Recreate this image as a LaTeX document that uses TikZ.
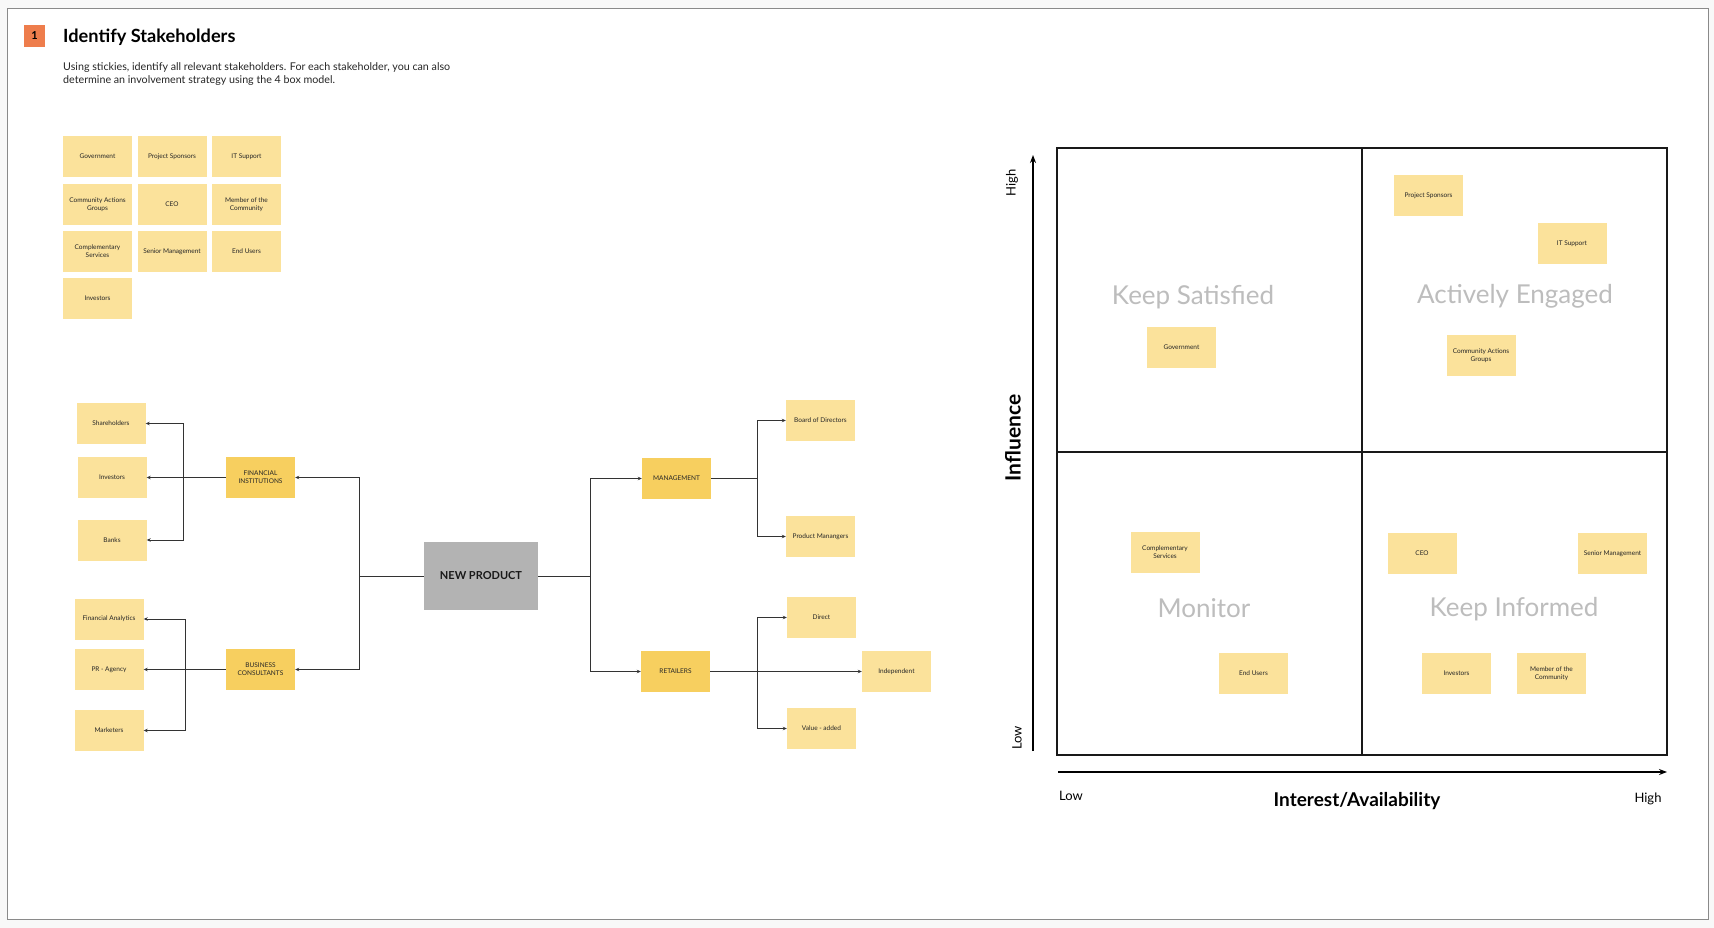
\documentclass[tikz,border=0pt]{standalone}
\usepackage{fontspec}
\setmainfont{Lato}
\usetikzlibrary{arrows.meta}
\definecolor{pagebg}{HTML}{F8F8F8}
\definecolor{framegray}{HTML}{8A8A8A}
\definecolor{stickyY}{HTML}{FBE29B}
\definecolor{catY}{HTML}{F7CF5F}
\definecolor{npgray}{HTML}{B3B3B3}
\definecolor{badge}{HTML}{EE7D4C}
\definecolor{linec}{HTML}{333333}
\definecolor{quadgray}{HTML}{BDBDBD}
\tikzset{
  sticky/.style={rectangle, fill=stickyY, minimum width=69pt, minimum height=41pt, inner sep=1pt,
    align=center, text=black!85, font=\fontsize{6.5}{8}\selectfont},
  catbox/.style={sticky, fill=catY},
  npbox/.style={rectangle, fill=npgray, minimum width=114pt, minimum height=68pt, inner sep=0pt,
    text=black!90, font=\bfseries\fontsize{11}{13}\selectfont},
  conn/.style={draw=linec, line width=1pt},
  arr/.style={conn, -{Stealth[length=4pt,width=3.5pt]}},
  axisarr/.style={draw=black, line width=1.4pt, -{Stealth[length=8pt,width=6pt]}},
  quadlbl/.style={text=quadgray, font=\fontsize{26}{29}\selectfont},
  axlbl/.style={text=black, font=\fontsize{13}{15}\selectfont},
}
\begin{document}
\begin{tikzpicture}[x=1pt,y=-1pt]
\useasboundingbox (0,0) rectangle (1714,928);
\fill[pagebg] (0,0) rectangle (1714,928);
\draw[framegray, fill=white, line width=1pt] (7.5,9) rectangle (1708,919);

% header
\node[rectangle, fill=badge, minimum width=21pt, minimum height=22pt, inner sep=0pt,
  font=\bfseries\fontsize{11}{12}\selectfont] (badge) at (34.5,36) {1};
\node[anchor=base west, inner sep=0pt, font=\bfseries\fontsize{18.2}{21}\selectfont] (title) at (63,43) {Identify Stakeholders};
\node[anchor=west, inner sep=0pt, align=left, font=\fontsize{10.7}{13}\selectfont, text=black!85] (desc) at (63,74)
  {Using stickies, identify all relevant stakeholders. For each stakeholder, you can also\\determine an involvement strategy using the 4 box model.};

% sticky pool
\node[sticky] (g1) at (97.5,156.5) {Government};
\node[sticky] (g2) at (172,156.5) {Project Sponsors};
\node[sticky] (g3) at (246.5,156.5) {IT Support};
\node[sticky] (g4) at (97.5,204.5) {Community Actions\\Groups};
\node[sticky] (g5) at (172,204.5) {CEO};
\node[sticky] (g6) at (246.5,204.5) {Member of the\\Community};
\node[sticky] (g7) at (97.5,251.5) {Complementary\\Services};
\node[sticky] (g8) at (172,251.5) {Senior Management};
\node[sticky] (g9) at (246.5,251.5) {End Users};
\node[sticky] (g10) at (97.5,298.5) {Investors};

% tree
\node[npbox] (np) at (481,576) {NEW PRODUCT};
\node[catbox] (fi) at (260.5,477.5) {FINANCIAL\\INSTITUTIONS};
\node[catbox] (bc) at (260.5,669.5) {BUSINESS\\CONSULTANTS};
\node[catbox] (mg) at (676.5,478.5) {MANAGEMENT};
\node[catbox] (rt) at (675.5,671.5) {RETAILERS};

\node[sticky] (sh) at (111,423.5) {Shareholders};
\node[sticky] (iv) at (112,477.5) {Investors};
\node[sticky] (bk) at (112,540) {Banks};
\node[sticky] (fa) at (109,619) {Financial Analytics};
\node[sticky] (pr) at (109,669.5) {PR - Agency};
\node[sticky] (mk) at (109,730.5) {Marketers};

\node[sticky] (bd) at (820.5,420.5) {Board of Directors};
\node[sticky] (pm) at (820.5,536.5) {Product Manangers};
\node[sticky] (di) at (821.5,617.5) {Direct};
\node[sticky] (in) at (896.5,671.5) {Independent};
\node[sticky] (va) at (821.5,728.5) {Value - added};

\coordinate (jL) at (359,576);
\coordinate (jR) at (590,576);
\coordinate (jFI) at (183,477.5);
\coordinate (jBC) at (185,669.5);
\coordinate (jMG) at (757,478.5);
\coordinate (jRT) at (757,671.5);

\draw[conn] (np.west) -- (jL);
\draw[arr] (jL) |- (fi.east);
\draw[arr] (jL) |- (bc.east);
\draw[conn] (np.east) -- (jR);
\draw[arr] (jR) |- (mg.west);
\draw[arr] (jR) |- (rt.west);

\draw[arr] (fi.west) -- (iv.east);
\draw[arr] (jFI) |- (sh.east);
\draw[arr] (jFI) |- (bk.east);
\draw[arr] (bc.west) -- (pr.east);
\draw[arr] (jBC) |- (fa.east);
\draw[arr] (jBC) |- (mk.east);

\draw[conn] (mg.east) -- (jMG);
\draw[arr] (jMG) |- (bd.west);
\draw[arr] (jMG) |- (pm.west);
\draw[arr] (rt.east) -- (in.west);
\draw[arr] (jRT) |- (di.west);
\draw[arr] (jRT) |- (va.west);

% matrix
\draw[black!90, line width=1.6pt] (1057,148) rectangle (1667,755);
\draw[black!90, line width=1.6pt] (1362,148) -- (1362,755);
\draw[black!90, line width=1.6pt] (1057,452) -- (1667,452);

\coordinate (ya0) at (1033,751);
\coordinate (ya1) at (1033,155);
\coordinate (xa0) at (1058,772);
\coordinate (xa1) at (1667,772);
\draw[axisarr] (ya0) -- (ya1);
\draw[axisarr] (xa0) -- (xa1);

\node[axlbl, rotate=90] (yhigh) at (1012,183) {High};
\node[axlbl, rotate=90] (ylow) at (1017,738) {Low};
\node[rotate=90, font=\bfseries\fontsize{21}{24}\selectfont] (yname) at (1013,438) {Influence};
\node[axlbl, anchor=west, inner sep=0pt] (xlow) at (1059,796) {Low};
\node[axlbl] (xhigh) at (1648,799) {High};
\node[font=\bfseries\fontsize{19}{22}\selectfont] (xname) at (1357,801) {Interest/Availability};

\node[quadlbl] (q1) at (1193,297) {Keep Satisfied};
\node[quadlbl] (q2) at (1515,296) {Actively Engaged};
\node[quadlbl] (q3) at (1204,608) {Monitor};
\node[quadlbl] (q4) at (1514,609) {Keep Informed};

\node[sticky] (m1) at (1181.5,347.5) {Government};
\node[sticky] (m2) at (1428.5,196) {Project Sponsors};
\node[sticky] (m3) at (1572,243.5) {IT Support};
\node[sticky] (m4) at (1481,355.5) {Community Actions\\Groups};
\node[sticky] (m5) at (1165,552.5) {Complementary\\Services};
\node[sticky] (m6) at (1253.5,673.5) {End Users};
\node[sticky] (m7) at (1422,553.5) {CEO};
\node[sticky] (m8) at (1612.5,553.5) {Senior Management};
\node[sticky] (m9) at (1456.5,673.5) {Investors};
\node[sticky] (m10) at (1551.5,673.5) {Member of the\\Community};
\end{tikzpicture}
\end{document}
